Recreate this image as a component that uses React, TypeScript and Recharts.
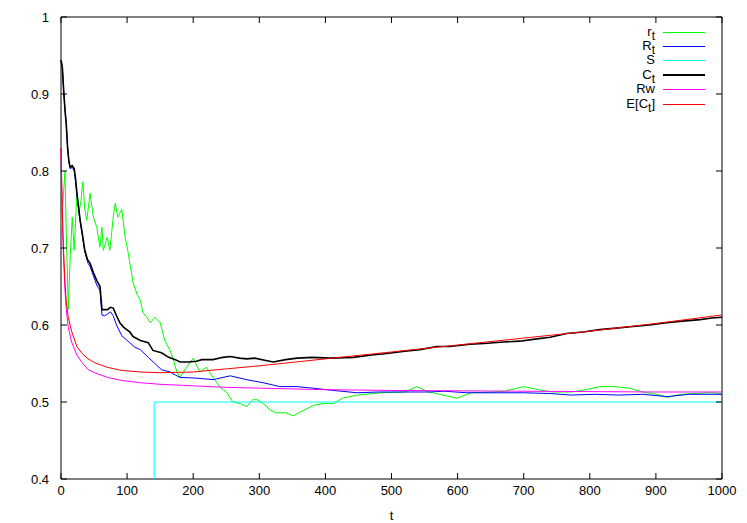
import { LineChart, Line, XAxis, YAxis, ReferenceArea } from 'recharts'

// t values and series values
const rtT = [0, 3, 6, 8, 11, 14, 17, 20, 24, 27, 30, 33, 36, 39, 44, 49, 54, 59, 62, 64, 70, 74, 79, 82, 86, 92, 97, 101, 109, 115, 120, 124, 130, 135, 142, 150, 157, 165, 170, 175, 180, 190, 200, 210, 220, 230, 240, 251, 260, 271, 281, 290, 297, 306, 316, 325, 340, 351, 362, 383, 398, 412, 426, 448, 484, 520, 538, 556, 578, 599, 621, 649, 671, 700, 722, 743, 772, 794, 815, 837, 859, 880, 902, 917, 938, 959, 982, 1000]
const rtV = [0.727, 0.76, 0.8, 0.72, 0.62, 0.69, 0.74, 0.697, 0.771, 0.745, 0.76, 0.786, 0.75, 0.736, 0.771, 0.74, 0.727, 0.701, 0.727, 0.697, 0.714, 0.697, 0.74, 0.758, 0.74, 0.75, 0.714, 0.697, 0.655, 0.64, 0.632, 0.616, 0.61, 0.603, 0.61, 0.603, 0.58, 0.567, 0.555, 0.54, 0.532, 0.545, 0.557, 0.539, 0.545, 0.532, 0.52, 0.512, 0.5, 0.498, 0.494, 0.503, 0.503, 0.498, 0.49, 0.486, 0.486, 0.482, 0.487, 0.496, 0.498, 0.498, 0.505, 0.509, 0.512, 0.513, 0.52, 0.513, 0.509, 0.505, 0.512, 0.513, 0.514, 0.52, 0.516, 0.513, 0.513, 0.516, 0.52, 0.52, 0.518, 0.513, 0.51, 0.506, 0.51, 0.511, 0.512, 0.511]

const bigRT = [0, 2, 4, 6, 8, 10, 12, 14, 17, 20, 22, 24, 27, 29, 32, 36, 41, 44, 49, 54, 59, 62, 66, 70, 75, 79, 84, 92, 104, 112, 120, 132, 142, 152, 165, 173, 180, 205, 230, 256, 281, 306, 331, 357, 381, 412, 448, 480, 513, 556, 580, 614, 664, 700, 740, 772, 808, 844, 880, 917, 950, 1000]
const bigRV = [0.944, 0.935, 0.905, 0.88, 0.86, 0.83, 0.812, 0.803, 0.805, 0.8, 0.787, 0.77, 0.748, 0.734, 0.718, 0.695, 0.68, 0.676, 0.664, 0.652, 0.645, 0.613, 0.612, 0.614, 0.617, 0.612, 0.6, 0.586, 0.577, 0.571, 0.568, 0.558, 0.55, 0.542, 0.539, 0.535, 0.532, 0.531, 0.529, 0.534, 0.529, 0.525, 0.52, 0.52, 0.518, 0.515, 0.512, 0.513, 0.513, 0.513, 0.514, 0.512, 0.512, 0.512, 0.511, 0.509, 0.51, 0.509, 0.51, 0.507, 0.51, 0.51]

const sT = [0, 141, 1000]
const sV = [0, 0.5, 0.5]

const ctT = [0, 2, 4, 6, 8, 10, 12, 14, 17, 20, 22, 24, 27, 29, 32, 36, 40, 44, 49, 54, 59, 62, 66, 70, 75, 79, 84, 89, 95, 104, 109, 120, 132, 139, 152, 163, 173, 180, 193, 205, 213, 230, 245, 256, 270, 281, 293, 310, 321, 340, 357, 381, 407, 442, 470, 493, 520, 543, 569, 588, 619, 640, 669, 694, 720, 740, 765, 790, 815, 840, 865, 890, 916, 940, 967, 985, 1000]
const ctV = [0.944, 0.935, 0.905, 0.88, 0.86, 0.83, 0.812, 0.805, 0.807, 0.803, 0.79, 0.772, 0.75, 0.736, 0.72, 0.697, 0.685, 0.68, 0.668, 0.658, 0.65, 0.62, 0.62, 0.62, 0.623, 0.622, 0.612, 0.603, 0.597, 0.591, 0.585, 0.58, 0.577, 0.567, 0.564, 0.558, 0.555, 0.552, 0.552, 0.553, 0.555, 0.555, 0.558, 0.559, 0.557, 0.556, 0.557, 0.554, 0.552, 0.555, 0.557, 0.558, 0.557, 0.558, 0.561, 0.563, 0.566, 0.568, 0.572, 0.572, 0.575, 0.576, 0.578, 0.579, 0.582, 0.584, 0.589, 0.591, 0.594, 0.596, 0.598, 0.6, 0.603, 0.605, 0.607, 0.609, 0.61]

const rwT = [0, 1, 2, 3, 4, 6, 8, 11, 16, 24, 32, 41, 51, 70, 92, 120, 150, 200, 250, 300, 400, 500, 600, 700, 800, 900, 1000]
const rwV = [0.83, 0.78, 0.74, 0.71, 0.685, 0.645, 0.62, 0.597, 0.578, 0.561, 0.551, 0.542, 0.538, 0.532, 0.528, 0.525, 0.523, 0.521, 0.519, 0.518, 0.516, 0.515, 0.5145, 0.514, 0.5135, 0.513, 0.513]

const ectT = [0, 1, 2, 3, 4, 6, 8, 11, 16, 24, 32, 41, 51, 70, 92, 120, 150, 200, 250, 300, 400, 500, 600, 700, 800, 900, 1000]
const ectV = [0.83, 0.79, 0.75, 0.72, 0.695, 0.655, 0.63, 0.61, 0.592, 0.572, 0.563, 0.556, 0.551, 0.545, 0.541, 0.539, 0.538, 0.539, 0.543, 0.547, 0.556, 0.565, 0.574, 0.583, 0.592, 0.602, 0.613]

const xTicks = [0, 100, 200, 300, 400, 500, 600, 700, 800, 900, 1000]
const yTicks = [0.4, 0.5, 0.6, 0.7, 0.8, 0.9, 1]

const zip = (ts: number[], vs: number[]) => ts.map((t, i) => ({ t, v: vs[i] }))

const series = [
    { name: 'r_t', data: zip(rtT, rtV), color: '#00ff00', width: 1 },
    { name: 'R_t', data: zip(bigRT, bigRV), color: '#0000ff', width: 1 },
    { name: 'S', data: zip(sT, sV), color: '#00ffff', width: 1, step: true },
    { name: 'C_t', data: zip(ctT, ctV), color: '#000000', width: 1.6 },
    { name: 'Rw', data: zip(rwT, rwV), color: '#ff00ff', width: 1 },
    { name: 'E[C_t]', data: zip(ectT, ectV), color: '#ff0000', width: 1 },
]

const W = 747
const H = 523
const margin = { top: 17, right: 25, left: 0, bottom: 0 }
const yAxisW = 61
const xAxisH = 44
const plotTop = margin.top
const plotBottom = H - margin.bottom - xAxisH
const plotLeft = margin.left + yAxisW
const plotRight = W - margin.right
const TICK = 6

const font = '"Liberation Sans", Arial, sans-serif'
const tickStyle = { fontSize: 13, fontFamily: font, fill: '#000' }

// gnuplot style: inward ticks mirrored on the opposite side
function XTick({ x, y, payload }: any) {
    return (
        <g>
            <line x1={x} x2={x} y1={plotBottom} y2={plotBottom - TICK} stroke="#000" />
            <line x1={x} x2={x} y1={plotTop} y2={plotTop + TICK} stroke="#000" />
            <text x={x} y={y} dy="0.71em" textAnchor="middle" {...tickStyle}>{payload.value}</text>
        </g>
    )
}

function YTick({ x, y, payload }: any) {
    const v = payload.value as number
    return (
        <g>
            <line x1={plotLeft} x2={plotLeft + TICK} y1={y} y2={y} stroke="#000" />
            <line x1={plotRight} x2={plotRight - TICK} y1={y} y2={y} stroke="#000" />
            <text x={x} y={y} dy="0.35em" textAnchor="end" {...tickStyle}>{v === 1 ? '1' : v.toFixed(1)}</text>
        </g>
    )
}

function Label({ text }: { text: string }) {
    const parts = text.split('_')
    if (parts.length === 1) return <span>{text}</span>
    return (
        <span>
            {parts[0]}
            <span style={{ position: 'relative', top: 4, fontSize: 12 }}>{parts[1][0]}</span>
            {parts[1].slice(1)}
        </span>
    )
}

export default function App() {
    return (
        <div style={{ position: 'relative', width: W, height: H }}>
            <style>{'body{margin:0}'}</style>
            <LineChart width={W} height={H} margin={margin}>
                <XAxis
                    dataKey="t"
                    type="number"
                    domain={[0, 1000]}
                    ticks={xTicks}
                    height={xAxisH}
                    axisLine={false}
                    tickLine={false}
                    tickSize={0}
                    tickMargin={7}
                    tick={<XTick />}
                    label={{ value: 't', position: 'insideBottom', offset: 3, style: tickStyle }}
                />
                <YAxis
                    type="number"
                    domain={[0.4, 1]}
                    ticks={yTicks}
                    allowDataOverflow
                    width={yAxisW}
                    axisLine={false}
                    tickLine={false}
                    tickSize={0}
                    tickMargin={12}
                    tick={<YTick />}
                />
                {series.map(s => (
                    <Line
                        key={s.name}
                        data={s.data}
                        dataKey="v"
                        name={s.name}
                        type={s.step ? 'stepAfter' : 'linear'}
                        stroke={s.color}
                        strokeWidth={s.width}
                        dot={false}
                        activeDot={false}
                        isAnimationActive={false}
                    />
                ))}
                <ReferenceArea x1={0} x2={1000} y1={0.4} y2={1} fill="none" stroke="#000" strokeWidth={1} ifOverflow="visible" />
            </LineChart>
            {series.map((s, i) => (
                <div key={s.name} style={{ position: 'absolute', top: Math.round(31.5 + i * 14.4) - 8, left: 560, width: 150, height: 16 }}>
                    <div
                        style={{
                            position: 'absolute', right: 55, top: 0, lineHeight: '16px',
                            fontFamily: font, fontSize: 13, whiteSpace: 'nowrap', textAlign: 'right',
                        }}
                    >
                        <Label text={s.name} />
                    </div>
                    <div style={{ position: 'absolute', left: 103, width: 42, top: s.width > 1 ? 7 : 8, height: Math.round(s.width), background: s.color }} />
                </div>
            ))}
        </div>
    )
}
